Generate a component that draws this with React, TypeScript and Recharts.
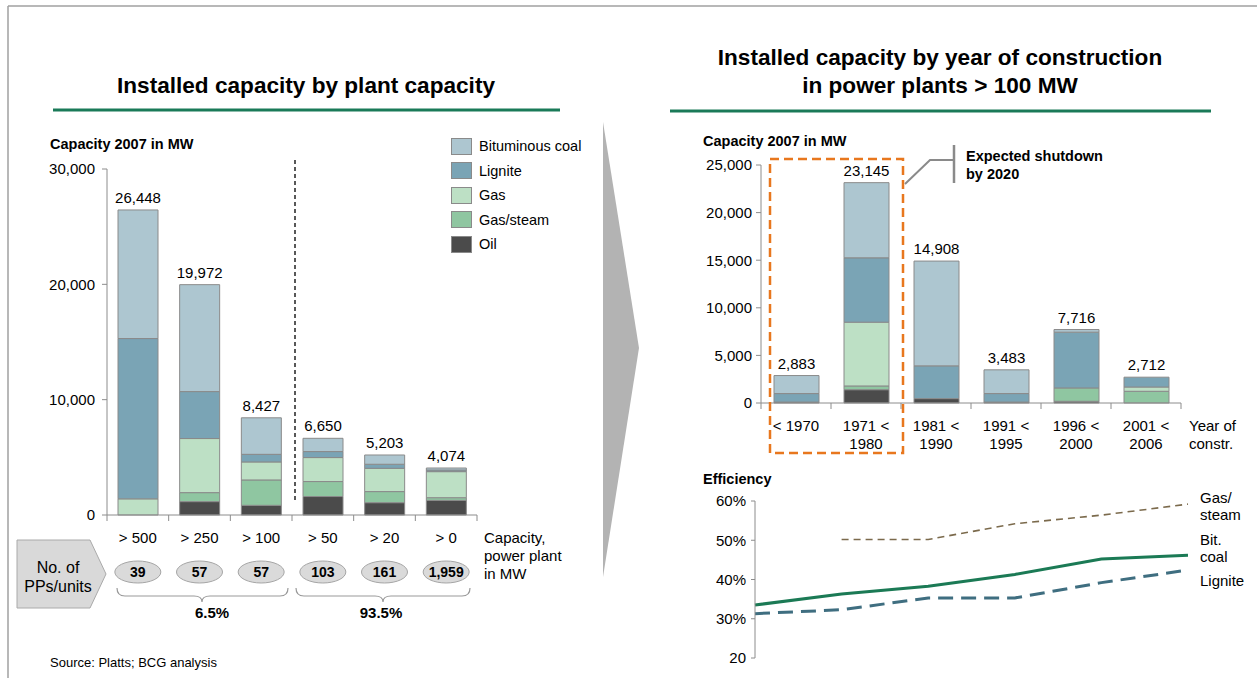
import React from "react";
import { BarChart, Bar, XAxis, YAxis, LabelList, LineChart, Line } from "recharts";

const FONT = '"Liberation Sans", Arial, Helvetica, sans-serif';

// left chart: capacity by plant size
const plantClasses = ["> 500", "> 250", "> 100", "> 50", "> 20", "> 0"];
const plantUnits = ["39", "57", "57", "103", "161", "1,959"];
const plantTotals = [26448, 19972, 8427, 6650, 5203, 4074];
const plantOil = [0, 1160, 840, 1600, 1070, 1270];
const plantGasSteam = [0, 780, 2200, 1300, 960, 230];
const plantGas = [1400, 4690, 1560, 2080, 2020, 2260];
const plantLignite = [13900, 4070, 660, 520, 350, 140];
const plantBitCoal = [11148, 9272, 3167, 1150, 803, 174];
const plantTicks = [0, 10000, 20000, 30000];

// right chart: capacity by year of construction
const yearClasses = ["< 1970", "1971 <\n1980", "1981 <\n1990", "1991 <\n1995", "1996 <\n2000", "2001 <\n2006"];
const yearTotals = [2883, 23145, 14908, 3483, 7716, 2712];
const yearOil = [100, 1400, 460, 100, 180, 0];
const yearGasSteam = [0, 390, 0, 0, 1400, 1230];
const yearGas = [0, 6700, 0, 0, 0, 450];
const yearLignite = [890, 6760, 3440, 890, 5860, 1032];
const yearBitCoal = [1893, 7895, 11008, 2493, 276, 0];
const yearTicks = [0, 5000, 10000, 15000, 20000, 25000];

// efficiency
const effBitCoal = [33.5, 36.3, 38.3, 41.3, 45.2, 46.2];
const effLignite = [31.3, 32.3, 35.3, 35.3, 39.2, 42.4];
const effGasSteam = [null, 50.2, 50.2, 54.2, 56.4, 59.2];
const effTicks = [20, 30, 40, 50, 60];

const series = [
  { key: "oil", name: "Oil", color: "#4b4b4b" },
  { key: "gasSteam", name: "Gas/steam", color: "#8fc6a1" },
  { key: "gas", name: "Gas", color: "#bde0c5" },
  { key: "lignite", name: "Lignite", color: "#7aa4b5" },
  { key: "bitCoal", name: "Bituminous coal", color: "#adc6d0" },
];

const plantData = plantClasses.map((c, i) => ({
  name: c,
  oil: plantOil[i],
  gasSteam: plantGasSteam[i],
  gas: plantGas[i],
  lignite: plantLignite[i],
  bitCoal: plantBitCoal[i],
  total: plantTotals[i],
}));

const yearData = yearClasses.map((c, i) => ({
  name: c,
  oil: yearOil[i],
  gasSteam: yearGasSteam[i],
  gas: yearGas[i],
  lignite: yearLignite[i],
  bitCoal: yearBitCoal[i],
  total: yearTotals[i],
}));

const effData = yearClasses.map((c, i) => ({
  name: c,
  bitCoal: effBitCoal[i],
  lignite: effLignite[i],
  gasSteam: effGasSteam[i],
}));

const fmt = (v: number) => v.toLocaleString("en-US");
const AXIS = "#8c8c8c";

const LEFT_W = 600;
const LEFT_M = { top: 169, right: 123, bottom: 63, left: 0 };
const LEFT_Y_W = 107;
const LEFT_BAND = (LEFT_W - LEFT_M.right - LEFT_Y_W) / plantClasses.length;

const RIGHT_W = 600;
const RIGHT_M = { top: 165, right: 59, bottom: 7, left: 0 };
const RIGHT_Y_W = 121;
const RIGHT_BAND = (RIGHT_W - RIGHT_M.right - RIGHT_Y_W) / yearClasses.length;

const PlantTick = (props: any) => {
  const { x, y, payload } = props;
  const i = payload.index ?? props.index;
  const last = i === plantClasses.length - 1;
  return (
    <g>
      <line x1={x - LEFT_BAND / 2} x2={x - LEFT_BAND / 2} y1={y} y2={y + 6} stroke={AXIS} />
      {last && <line x1={x + LEFT_BAND / 2} x2={x + LEFT_BAND / 2} y1={y} y2={y + 6} stroke={AXIS} />}
      <text x={x} y={y + 28} textAnchor="middle" fontSize={15} fill="#000" fontFamily={FONT}>
        {payload.value}
      </text>
      <ellipse cx={x} cy={y + 57} rx={23} ry={11} fill="#dadada" stroke="#a6a6a6" />
      <text x={x} y={y + 62} textAnchor="middle" fontSize={14} fontWeight="bold" fill="#000" fontFamily={FONT}>
        {plantUnits[i]}
      </text>
    </g>
  );
};

const YearTick = (props: any) => {
  const { x, y, payload } = props;
  const i = payload.index ?? props.index;
  const last = i === yearClasses.length - 1;
  const lines = String(payload.value).split("\n");
  return (
    <g>
      <line x1={x - RIGHT_BAND / 2} x2={x - RIGHT_BAND / 2} y1={y} y2={y + 6} stroke={AXIS} />
      {last && <line x1={x + RIGHT_BAND / 2} x2={x + RIGHT_BAND / 2} y1={y} y2={y + 6} stroke={AXIS} />}
      {lines.map((l, k) => (
        <text key={k} x={x} y={y + 28 + k * 18} textAnchor="middle" fontSize={15} fill="#000" fontFamily={FONT}>
          {l}
        </text>
      ))}
    </g>
  );
};

// total label is drawn above the topmost non-empty segment of each stack
const topSeries = (row: any) => {
  let top = 0;
  series.forEach((s, k) => {
    if (row[s.key] > 0) top = k;
  });
  return top;
};

const Bars = (data: any[], size: number) =>
  series.map((s, idx) => (
    <Bar
      key={s.key}
      dataKey={s.key}
      name={s.name}
      stackId="a"
      fill={s.color}
      stroke="#8a8a8a"
      strokeWidth={1}
      barSize={size}
      isAnimationActive={false}
    >
      <LabelList
        dataKey="total"
        content={(p: any) => {
          const row = data[p.index];
          if (!row || topSeries(row) !== idx) return null;
          return (
            <text x={p.x + p.width / 2} y={p.y - 7} textAnchor="middle" fontSize={15} fill="#000" fontFamily={FONT}>
              {fmt(row.total)}
            </text>
          );
        }}
      />
    </Bar>
  ));

const T = (p: { x: number; y: number; children: React.ReactNode; size?: number; bold?: boolean; anchor?: string }) => (
  <text
    x={p.x}
    y={p.y}
    fontSize={p.size ?? 15}
    fontWeight={p.bold ? "bold" : "normal"}
    textAnchor={(p.anchor as any) ?? "start"}
    dominantBaseline="central"
    fill="#000"
    fontFamily={FONT}
  >
    {p.children}
  </text>
);

const brace = (x1: number, x2: number, mid: number) =>
  `M${x1},588 Q${x1},596 ${x1 + 8},596 L${mid - 8},596 Q${mid},596 ${mid},602 Q${mid},596 ${mid + 8},596 L${x2 - 8},596 Q${x2},596 ${x2},588`;

export default function App() {
  const tickStyle = { fontSize: 15, fill: "#000", fontFamily: FONT };
  const legendItems = [...series].reverse();
  return (
    <div style={{ position: "absolute", left: 0, top: 0, width: 1257, height: 678, background: "#fff", fontFamily: FONT, overflow: "hidden" }}>
      <div style={{ position: "absolute", left: 0, top: 0 }}>
        <BarChart width={LEFT_W} height={678} data={plantData} margin={LEFT_M}>
          <YAxis
            width={LEFT_Y_W}
            domain={[0, 30000]}
            ticks={plantTicks}
            tickFormatter={fmt}
            tick={tickStyle}
            tickSize={5}
            tickMargin={7}
            stroke={AXIS}
          />
          <XAxis dataKey="name" height={100} interval={0} tickLine={false} tickSize={0} tickMargin={0} tick={<PlantTick />} stroke={AXIS} />
          {Bars(plantData, 40)}
        </BarChart>
      </div>

      <div style={{ position: "absolute", left: 640, top: 0 }}>
        <BarChart width={RIGHT_W} height={470} data={yearData} margin={RIGHT_M}>
          <YAxis
            width={RIGHT_Y_W}
            domain={[0, 25000]}
            ticks={yearTicks}
            tickFormatter={fmt}
            tick={tickStyle}
            tickSize={5}
            tickMargin={4}
            stroke={AXIS}
          />
          <XAxis dataKey="name" height={60} interval={0} tickLine={false} tickSize={0} tickMargin={0} tick={<YearTick />} stroke={AXIS} />
          {Bars(yearData, 45)}
        </BarChart>
      </div>

      <div style={{ position: "absolute", left: 640, top: 470 }}>
        <LineChart width={617} height={208} data={effData} margin={{ top: 31, right: 69, bottom: 20, left: 0 }}>
          <YAxis
            width={115}
            domain={[20, 60]}
            ticks={effTicks}
            tickFormatter={(v: number) => (v === 20 ? "20" : `${v}%`)}
            tick={tickStyle}
            tickSize={4}
            tickMargin={5}
            stroke={AXIS}
          />
          <XAxis dataKey="name" scale="point" tick={false} tickLine={false} height={0} stroke={AXIS} />
          <Line dataKey="gasSteam" stroke="#7b6a4c" strokeWidth={1.6} strokeDasharray="7 5" dot={false} isAnimationActive={false} />
          <Line dataKey="bitCoal" stroke="#1b7a55" strokeWidth={3} dot={false} isAnimationActive={false} />
          <Line dataKey="lignite" stroke="#3f6e80" strokeWidth={3} strokeDasharray="15 8" dot={false} isAnimationActive={false} />
        </LineChart>
      </div>

      {/* legend */}
      <div style={{ position: "absolute", left: 451, top: 134 }}>
        {legendItems.map((s) => (
          <div key={s.key} style={{ display: "flex", alignItems: "center", height: 24.5 }}>
            <div style={{ width: 19, height: 15, background: s.color, border: "1px solid #8a8a8a" }} />
            <span style={{ marginLeft: 7, fontSize: 14.5, color: "#000" }}>{s.name}</span>
          </div>
        ))}
      </div>

      <svg width={1257} height={678} style={{ position: "absolute", left: 0, top: 0, pointerEvents: "none" }}>
        {/* frame */}
        <line x1={8} y1={6} x2={1257} y2={6} stroke="#a0a0a0" strokeWidth={1.5} />
        <line x1={8} y1={6} x2={8} y2={678} stroke="#a0a0a0" strokeWidth={1.5} />

        {/* titles */}
        <T x={306} y={85} size={22.6} bold anchor="middle">Installed capacity by plant capacity</T>
        <line x1={53} y1={110} x2={560} y2={110} stroke="#1a7a58" strokeWidth={3} />
        <T x={940} y={57} size={22.6} bold anchor="middle">Installed capacity by year of construction</T>
        <T x={940} y={85} size={22.6} bold anchor="middle">in power plants &gt; 100 MW</T>
        <line x1={670} y1={111} x2={1211} y2={111} stroke="#1a7a58" strokeWidth={3} />

        {/* arrow */}
        <polygon points="603,122 639,348 603,577" fill="#b3b3b3" />

        {/* left chart annotations */}
        <T x={50} y={144} size={14.5} bold>Capacity 2007 in MW</T>
        <line x1={295} y1={160} x2={295} y2={502} stroke="#222" strokeWidth={1.5} strokeDasharray="4 3" />
        <T x={484} y={537} size={15}>Capacity,</T>
        <T x={484} y={555} size={15}>power plant</T>
        <T x={484} y={573} size={15}>in MW</T>
        <polygon points="17,540 90,540 106,574 90,608 17,608" fill="#d9d9d9" stroke="#aaa" />
        <T x={58} y={567} size={16} anchor="middle">No. of</T>
        <T x={58} y={586} size={16} anchor="middle">PPs/units</T>
        <path d={brace(117, 288, 202)} fill="none" stroke="#999" strokeWidth={1.2} />
        <path d={brace(296, 470, 383)} fill="none" stroke="#999" strokeWidth={1.2} />
        <T x={212} y={612} size={15} bold anchor="middle">6.5%</T>
        <T x={381} y={612} size={15} bold anchor="middle">93.5%</T>
        <T x={50} y={662} size={13}>Source: Platts; BCG analysis</T>

        {/* right chart annotations */}
        <T x={703} y={141} size={14.5} bold>Capacity 2007 in MW</T>
        <rect x={770} y={159} width={133} height={294} fill="none" stroke="#e8771e" strokeWidth={2.5} strokeDasharray="9 5" />
        <polyline points="905,184 930,160 954,160" fill="none" stroke="#8a8a8a" strokeWidth={2} />
        <line x1={954} y1={145} x2={954} y2={183} stroke="#8a8a8a" strokeWidth={2.5} />
        <T x={966} y={156} size={14.5} bold>Expected shutdown</T>
        <T x={966} y={174} size={14.5} bold>by 2020</T>
        <T x={1189} y={425} size={15}>Year of</T>
        <T x={1189} y={443} size={15}>constr.</T>

        {/* efficiency */}
        <T x={703} y={479} size={14.5} bold>Efficiency</T>
        <T x={1200} y={497} size={15}>Gas/</T>
        <T x={1200} y={514} size={15}>steam</T>
        <T x={1200} y={539} size={15}>Bit.</T>
        <T x={1200} y={556} size={15}>coal</T>
        <T x={1200} y={580} size={15}>Lignite</T>
      </svg>
    </div>
  );
}
